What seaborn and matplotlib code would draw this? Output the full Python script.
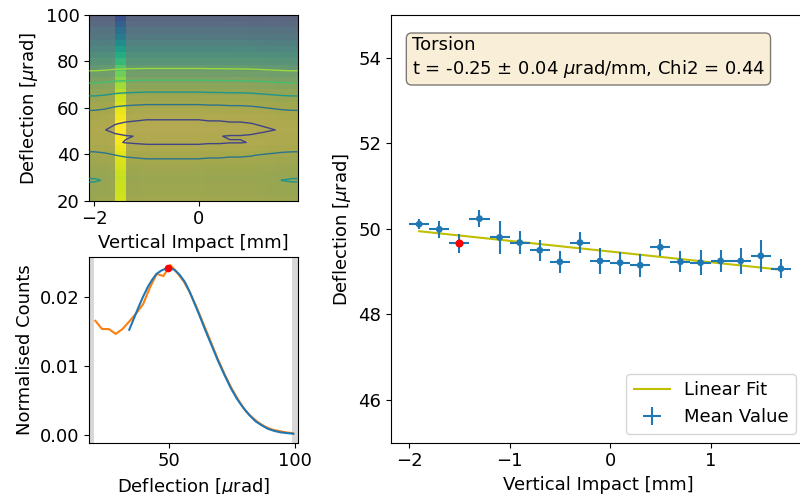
import numpy as np
import pandas as pd
import matplotlib
matplotlib.use("Agg")
import matplotlib.pyplot as plt
from matplotlib.colors import LogNorm
import seaborn as sns

plt.rcParams['font.family'] = ['DejaVu Sans']
plt.rcParams['font.size'] = 13

# ---------------- data: right panel (mean deflection per impact slice) ----------------
impact = [-1.9, -1.7, -1.5, -1.3, -1.1, -0.9, -0.7, -0.5, -0.3, -0.1,
          0.1, 0.3, 0.5, 0.7, 0.9, 1.1, 1.3, 1.5, 1.7]
mean_defl = [50.11, 49.99, 49.66, 50.24, 49.80, 49.68, 49.50, 49.23, 49.68, 49.25,
             49.21, 49.15, 49.57, 49.23, 49.21, 49.25, 49.25, 49.37, 49.07]
defl_err = [0.12, 0.20, 0.23, 0.19, 0.39, 0.26, 0.24, 0.26, 0.24, 0.30,
            0.26, 0.27, 0.20, 0.25, 0.30, 0.26, 0.31, 0.37, 0.23]
impact_err = [0.1] * 19
selected = 2
fit_slope = -0.25
fit_intercept = 49.47
box_text = "Torsion\nt = -0.25 ± 0.04 $\\mu$rad/mm, Chi2 = 0.44"

# ---------------- data: deflection profile of selected slice ----------------
profile_x = [20.7, 23.4, 26.1, 28.8, 31.5, 34.2, 37.0, 39.7, 42.4, 45.1,
             47.8, 50.5, 53.2, 55.9, 58.6, 61.3, 64.0, 66.8, 69.5, 72.2,
             74.9, 77.6, 80.3, 83.0, 85.7, 88.4, 91.1, 93.8, 96.5, 99.2]
profile_y = [0.0166, 0.0154, 0.0154, 0.0147, 0.0154, 0.0165, 0.0177, 0.0190, 0.0214, 0.0234,
             0.0231, 0.0247, 0.0236, 0.0223, 0.0205, 0.0183, 0.0159, 0.0134, 0.0110, 0.0088,
             0.0068, 0.0051, 0.0036, 0.0026, 0.0018, 0.0012, 0.0008, 0.0006, 0.0004, 0.0003]
fit_x = [34.2, 36.0, 37.8, 39.7, 41.7, 43.4, 45.0, 47.0, 49.0, 50.5,
         52.2, 54.2, 56.2, 58.0, 59.5, 62.0, 64.5, 67.0, 69.5, 72.0,
         74.5, 77.0, 79.5, 82.0, 84.5, 87.0, 89.5, 92.0, 94.5, 97.0, 99.5]
fit_y = [0.0153, 0.0169, 0.0185, 0.0201, 0.0216, 0.0226, 0.0234, 0.0239, 0.0242, 0.0242,
         0.0240, 0.0233, 0.0223, 0.0210, 0.0197, 0.0175, 0.0152, 0.0130, 0.0108, 0.0088,
         0.0069, 0.0053, 0.0040, 0.0029, 0.0020, 0.0014, 0.0009, 0.0006, 0.0004, 0.0003, 0.0002]
peak_x = 49.7
peak_y = 0.0242
range_lo = 20.3
range_hi = 98.9

# ---------------- data: 2D map (relative weight of each impact bin) ----------------
impact_bin_weight = [0.90, 0.92, 0.96, 0.98, 0.99, 1.00, 1.00, 1.00, 1.00, 1.00,
                     1.00, 0.99, 0.99, 0.98, 0.98, 0.97, 0.95, 0.93, 0.91, 0.90]
contour_levels = [0.0055, 0.0090, 0.0134, 0.0182, 0.0228]
strip_range = [-1.6, -1.4]

# ---------------- figure ----------------
fig = plt.figure(figsize=(8, 4.94), dpi=100)
ax_map = fig.add_axes([0.1116, 0.5937, 0.2605, 0.3759])
ax_prof = fig.add_axes([0.1116, 0.1038, 0.2605, 0.3765])
ax_main = fig.add_axes([0.4888, 0.1038, 0.5175, 0.8658])

# ----- 2D map -----
x_edges = np.linspace(-2.1, 1.9, len(impact_bin_weight) + 1)
y_edges = np.linspace(20, 100, len(profile_y) + 1)
x_cent = 0.5 * (x_edges[:-1] + x_edges[1:])
grid = np.outer(profile_y, impact_bin_weight)
norm = LogNorm(vmin=0.00007, vmax=0.0247)
ax_map.set_facecolor('#787878')
ax_map.pcolormesh(x_edges, y_edges, grid, cmap='viridis', norm=norm, alpha=0.45,
                  shading='flat', zorder=1)
ax_map.pcolormesh(strip_range, y_edges, np.array(profile_y)[:, None], cmap='viridis',
                  norm=norm, shading='flat', zorder=2)
cx = np.concatenate([[x_edges[0]], x_cent, [x_edges[-1]]])
cgrid = np.column_stack([grid[:, 0], grid, grid[:, -1]])
vir = plt.get_cmap('viridis')
contour_colors = [vir(0.85), vir(0.7), vir(0.52), vir(0.38), vir(0.2)]
ax_map.contour(cx, profile_x, cgrid, levels=contour_levels, colors=contour_colors,
               linewidths=1.0, zorder=3)
ax_map.set_xlim(-2.1, 1.9)
ax_map.set_ylim(20, 100)
ax_map.set_xticks([-2, 0])
ax_map.set_yticks([20, 40, 60, 80, 100])
ax_map.set_xlabel('Vertical Impact [mm]')
ax_map.set_ylabel('Deflection [$\\mu$rad]')

# ----- profile -----
ax_prof.set_xlim(18.3, 101.2)
ax_prof.set_ylim(-0.0011, 0.0259)
ax_prof.axvspan(18.3, range_lo, color='grey', alpha=0.3, lw=0)
ax_prof.axvspan(range_hi, 101.2, color='grey', alpha=0.3, lw=0)
sns.lineplot(x=profile_x, y=profile_y, color='C1', ax=ax_prof, sort=False, lw=1.5)
sns.lineplot(x=fit_x, y=fit_y, color='C0', ax=ax_prof, sort=False, lw=1.5)
ax_prof.plot([peak_x], [peak_y], 'o', color='red', ms=4.5)
ax_prof.set_xticks([50, 100])
ax_prof.set_yticks([0.0, 0.01, 0.02])
ax_prof.set_yticklabels(['0.00', '0.01', '0.02'])
ax_prof.set_xlabel('Deflection [$\\mu$rad]')
ax_prof.set_ylabel('Normalised Counts')

# ----- main panel -----
df = pd.DataFrame({'impact': impact, 'defl': mean_defl})
fit_line = pd.DataFrame({'impact': impact,
                         'defl': [fit_intercept + fit_slope * v for v in impact]})
sns.lineplot(data=fit_line, x='impact', y='defl', color='y', lw=1.5, ax=ax_main,
             label='Linear Fit', zorder=2)
ax_main.errorbar(impact, mean_defl, xerr=impact_err, yerr=defl_err, fmt='none',
                 ecolor='C0', elinewidth=1.5, label='Mean Value', zorder=3)
sns.scatterplot(data=df, x='impact', y='defl', color='C0', s=24, edgecolor='none',
                ax=ax_main, zorder=4, legend=False)
ax_main.plot([impact[selected]], [mean_defl[selected]], 'o', color='red', ms=4.8, zorder=5)
ax_main.set_xlim(-2.18, 1.94)
ax_main.set_ylim(45, 55)
ax_main.set_xticks([-2, -1, 0, 1])
ax_main.set_yticks([46, 48, 50, 52, 54])
ax_main.set_xlabel('Vertical Impact [mm]')
ax_main.set_ylabel('Deflection [$\\mu$rad]')
ax_main.text(0.05, 0.95, box_text, transform=ax_main.transAxes, fontsize=13,
             va='top', ha='left',
             bbox=dict(boxstyle='round', facecolor='wheat', alpha=0.5))
ax_main.legend(loc='lower right')

fig.savefig('out.png', dpi=100)
